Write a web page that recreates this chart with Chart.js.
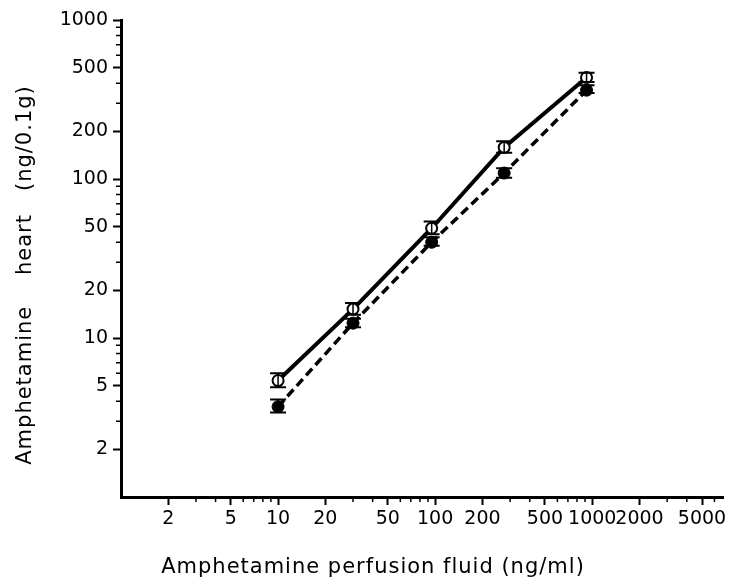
<!doctype html>
<html>

<head>
    <title>Amphetamine</title>
    <script src="https://cdn.jsdelivr.net/npm/chart.js"></script>
    <style>
        body { margin: 0; background: #fff; }
    </style>
</head>

<body>
    <canvas id="grafico" width="733" height="587"></canvas>

    <script>
        // perfusion fluid concentration (ng/ml)
        const perfusion = [10, 30, 95, 275, 920]

        // open circles, solid line
        const openMean = [5.4, 15.2, 49, 158, 435]
        const openHigh = [6.0, 16.6, 54, 173, 465]
        const openLow = [4.9, 14.0, 45, 146, 408]

        // filled circles, dashed line
        const filledMean = [3.7, 12.4, 40, 109, 362]
        const filledHigh = [4.1, 13.2, 43, 117, 389]
        const filledLow = [3.4, 11.7, 38, 102, 348]

        const xTicks = [1, 2, 3, 4, 5, 6, 7, 8, 9, 10, 20, 30, 40, 50, 60, 70, 80, 90,
            100, 200, 300, 400, 500, 600, 700, 800, 900, 1000, 2000, 3000, 4000, 5000, 6000]
        const xLabels = [2, 5, 10, 20, 50, 100, 200, 500, 1000, 2000, 5000]

        const yTicks = [1, 2, 3, 4, 5, 6, 7, 8, 9, 10, 20, 30, 40, 50, 60, 70, 80, 90,
            100, 200, 300, 400, 500, 600, 700, 800, 900, 1000]
        const yLabels = [2, 5, 10, 20, 50, 100, 200, 500, 1000]

        const xTitle = 'Amphetamine perfusion fluid (ng/ml)'
        const yTitle = 'Amphetamine    heart   (ng/0.1g)'

        const family = "'DejaVu Sans', sans-serif"
        const tickFont = { family: family, size: 19 }

        const errorBars = {
            id: 'errorBars',
            afterDatasetsDraw(chart) {
                const { ctx, scales: { x, y } } = chart
                ctx.save()
                ctx.strokeStyle = '#000'
                const sets = [[openHigh, openLow], [filledHigh, filledLow]]
                sets.forEach(([high, low]) => {
                    perfusion.forEach((v, i) => {
                        const px = x.getPixelForValue(v)
                        const top = y.getPixelForValue(high[i])
                        const bot = y.getPixelForValue(low[i])
                        ctx.lineWidth = 1.5
                        ctx.beginPath()
                        ctx.moveTo(px, top)
                        ctx.lineTo(px, bot)
                        ctx.stroke()
                        ctx.lineWidth = 2
                        ctx.beginPath()
                        ctx.moveTo(px - 8, top)
                        ctx.lineTo(px + 8, top)
                        ctx.moveTo(px - 8, bot)
                        ctx.lineTo(px + 8, bot)
                        ctx.stroke()
                    })
                })
                ctx.restore()
            }
        }

        // short ticks between the labelled ones
        const minorTicks = {
            id: 'minorTicks',
            afterDraw(chart) {
                const { ctx, chartArea: { left, bottom }, scales: { x, y } } = chart
                ctx.save()
                ctx.strokeStyle = '#000'
                ctx.lineWidth = 1.5
                ctx.beginPath()
                xTicks.forEach(v => {
                    if (v == 1 || xLabels.includes(v)) return
                    const px = x.getPixelForValue(v)
                    ctx.moveTo(px, bottom)
                    ctx.lineTo(px, bottom + 5)
                })
                yTicks.forEach(v => {
                    if (v == 1 || yLabels.includes(v)) return
                    const py = y.getPixelForValue(v)
                    ctx.moveTo(left - 5, py)
                    ctx.lineTo(left, py)
                })
                ctx.stroke()
                ctx.restore()
            }
        }

        const axisTitles = {
            id: 'axisTitles',
            afterDraw(chart) {
                const { ctx } = chart
                ctx.save()
                ctx.fillStyle = '#000'
                ctx.font = '21px ' + family
                ctx.letterSpacing = '1px'
                ctx.textAlign = 'center'
                ctx.textBaseline = 'middle'
                ctx.fillText(xTitle, 373, 568)
                ctx.translate(26, 275)
                ctx.rotate(-Math.PI / 2)
                ctx.fillText(yTitle, 0, 0)
                ctx.restore()
            }
        }

        new Chart(document.getElementById('grafico').getContext('2d'), {
            type: 'line',
            data: {
                datasets: [{
                    label: 'open',
                    data: perfusion.map((v, i) => ({ x: v, y: openMean[i] })),
                    borderColor: '#000',
                    borderWidth: 4,
                    pointRadius: 5.5,
                    pointBorderWidth: 2,
                    pointBorderColor: '#000',
                    pointBackgroundColor: '#fff'
                }, {
                    label: 'filled',
                    data: perfusion.map((v, i) => ({ x: v, y: filledMean[i] })),
                    borderColor: '#000',
                    borderWidth: 3.5,
                    borderDash: [9, 5],
                    pointRadius: 6,
                    pointBorderWidth: 1,
                    pointBorderColor: '#000',
                    pointBackgroundColor: '#000'
                }]
            },
            options: {
                responsive: false,
                animation: false,
                devicePixelRatio: 1,
                layout: { padding: { top: 20, right: 10, left: 0, bottom: 0 } },
                plugins: {
                    legend: { display: false },
                    tooltip: { enabled: false }
                },
                scales: {
                    x: {
                        type: 'logarithmic',
                        position: 'bottom',
                        min: 1,
                        max: 6800,
                        border: { color: '#000', width: 3 },
                        grid: {
                            drawOnChartArea: false,
                            tickLength: 8,
                            tickWidth: 2,
                            tickColor: c => xLabels.includes(c.tick.value) ? '#000' : 'rgba(0,0,0,0)'
                        },
                        ticks: {
                            autoSkip: false,
                            maxRotation: 0,
                            padding: 3,
                            color: '#000',
                            font: tickFont,
                            callback: v => xLabels.includes(v) ? String(v) : ''
                        },
                        afterBuildTicks: s => { s.ticks = xTicks.map(v => ({ value: v })) },
                        afterFit: s => { s.height = 90 }
                    },
                    y: {
                        type: 'logarithmic',
                        min: 1,
                        max: 1000,
                        border: { color: '#000', width: 3 },
                        grid: {
                            drawOnChartArea: false,
                            tickLength: 8,
                            tickWidth: 2,
                            tickColor: c => yLabels.includes(c.tick.value) ? '#000' : 'rgba(0,0,0,0)'
                        },
                        ticks: {
                            autoSkip: false,
                            padding: 5,
                            color: '#000',
                            font: tickFont,
                            callback: v => yLabels.includes(v) ? String(v) : ''
                        },
                        afterBuildTicks: s => { s.ticks = yTicks.map(v => ({ value: v })) },
                        afterFit: s => { s.width = 121 }
                    }
                }
            },
            plugins: [errorBars, minorTicks, axisTitles]
        });
    </script>
</body>

</html>
